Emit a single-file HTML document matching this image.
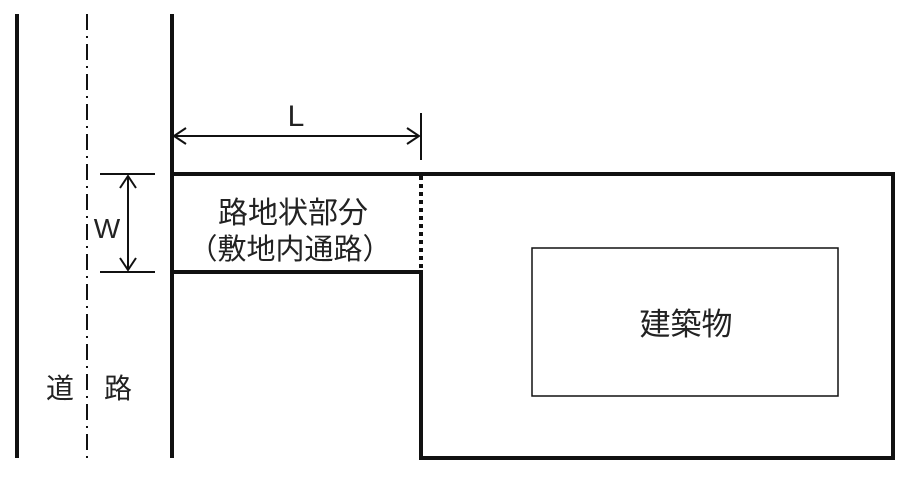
<!DOCTYPE html>
<html><head><meta charset="utf-8"><style>
body{margin:0;background:#fff;width:911px;height:483px;overflow:hidden}
text{font-family:"Liberation Sans","Noto Sans CJK JP",sans-serif;fill:#222}
</style></head><body>
<svg width="911" height="483" viewBox="0 0 911 483" xmlns="http://www.w3.org/2000/svg">
<g stroke="#111" fill="none">
<line x1="17" y1="14" x2="17" y2="458" stroke-width="4"/>
<line x1="87" y1="14" x2="87" y2="458" stroke-width="2" stroke-dasharray="16,6,2,6"/>
<line x1="172" y1="14" x2="172" y2="458" stroke-width="4"/>
<polyline points="172,174 893,174 893,458 421,458 421,272 172,272" stroke-width="4"/>
<line x1="421" y1="176" x2="421" y2="270" stroke-width="4" stroke-dasharray="4,4"/>
<line x1="421" y1="113" x2="421" y2="160" stroke-width="2"/>
<line x1="174" y1="136" x2="419" y2="136" stroke-width="2"/>
<polyline points="186,128 174,136 186,144" stroke-width="2"/>
<polyline points="407,128 419,136 407,144" stroke-width="2"/>
<line x1="100" y1="174" x2="155" y2="174" stroke-width="2"/>
<line x1="100" y1="272" x2="155" y2="272" stroke-width="2"/>
<line x1="128" y1="176" x2="128" y2="270" stroke-width="2"/>
<polyline points="120,188 128,176 136,188" stroke-width="2"/>
<polyline points="120,258 128,270 136,258" stroke-width="2"/>
<rect x="532" y="248" width="306" height="148" stroke-width="1.5"/>
</g>
<text x="296" y="126" font-size="30" text-anchor="middle">L</text>
<text x="107" y="238" font-size="28" text-anchor="middle">W</text>
<text x="293" y="223" font-size="30" text-anchor="middle">路地状部分</text>
<text x="290" y="259" font-size="29" text-anchor="middle">（敷地内通路）</text>
<text x="686" y="335" font-size="31" text-anchor="middle">建築物</text>
<text x="60" y="398" font-size="28" text-anchor="middle">道</text>
<text x="118" y="398" font-size="28" text-anchor="middle">路</text>
</svg>
</body></html>
